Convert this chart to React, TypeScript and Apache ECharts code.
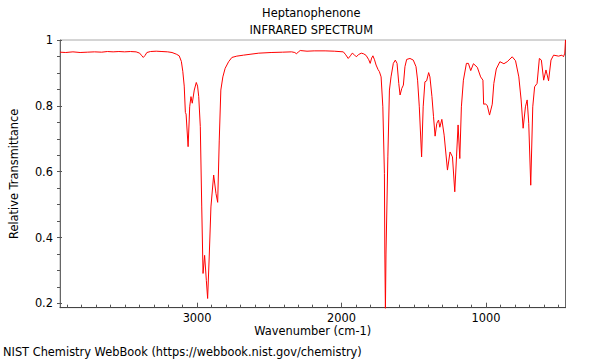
import React, { useEffect, useRef } from 'react';
import * as echarts from 'echarts';

// Spectrum (wavenumber in cm-1, relative transmittance)
const wavenumbers = [
  3970, 3930, 3880, 3830, 3780, 3730, 3680, 3640, 3600, 3560, 3520, 3480, 3440, 3415, 3400, 3390, 3378, 3365, 3340, 3300,
  3260, 3220, 3190, 3160, 3140, 3125, 3115, 3105, 3097, 3092, 3078, 3070, 3067, 3058, 3049, 3035, 3021, 3012, 3004, 2993,
  2983, 2974, 2963, 2951, 2942, 2931, 2919, 2900, 2884, 2872, 2861, 2850, 2836, 2820, 2796, 2773, 2739, 2692, 2640, 2586,
  2500, 2420, 2357, 2335, 2323, 2310, 2297, 2250, 2200, 2124, 2060, 1997, 1980, 1963, 1948, 1935, 1920, 1907, 1890, 1872,
  1855, 1838, 1820, 1810, 1800, 1791, 1780, 1769, 1755, 1746, 1734, 1722, 1711, 1708, 1704, 1700, 1687, 1676, 1665, 1649,
  1635, 1623, 1611, 1602, 1590, 1579, 1568, 1556, 1533, 1510, 1491, 1480, 1468, 1452, 1441, 1429, 1417, 1403, 1394, 1380,
  1369, 1358, 1346, 1334, 1325, 1311, 1295, 1272, 1254, 1237, 1221, 1209, 1198, 1186, 1175, 1161, 1140, 1126, 1110, 1091,
  1064, 1041, 1025, 1020, 1006, 994, 979, 960, 949, 932, 907, 879, 856, 821, 798, 775, 759, 745, 729, 717,
  706, 692, 678, 665, 648, 632, 618, 602, 586, 568, 551, 533, 498, 475, 464, 455, 451, 450,
];
const transmittance = [
  0.963, 0.962, 0.964, 0.962, 0.963, 0.964, 0.963, 0.965, 0.964, 0.965, 0.964, 0.965, 0.964, 0.96, 0.952, 0.947, 0.953, 0.962, 0.965, 0.966,
  0.965, 0.964, 0.962, 0.957, 0.952, 0.935, 0.905, 0.86, 0.78, 0.775, 0.676, 0.76, 0.797, 0.828, 0.808, 0.848, 0.871, 0.86, 0.828, 0.737,
  0.493, 0.291, 0.346, 0.27, 0.215, 0.341, 0.493, 0.59, 0.534, 0.507, 0.696, 0.848, 0.888, 0.914, 0.934, 0.947, 0.951, 0.954, 0.957, 0.96,
  0.962, 0.963, 0.964, 0.962, 0.958, 0.964, 0.968, 0.966, 0.967, 0.967, 0.966, 0.964, 0.955, 0.944, 0.952, 0.96, 0.955, 0.949, 0.956, 0.96,
  0.958, 0.953, 0.94, 0.929, 0.945, 0.952, 0.94, 0.924, 0.91, 0.904, 0.888, 0.797, 0.595, 0.35, 0.18, 0.35, 0.645, 0.848, 0.888, 0.929,
  0.939, 0.929, 0.868, 0.833, 0.853, 0.863, 0.919, 0.941, 0.944, 0.939, 0.919, 0.878, 0.797, 0.645, 0.797, 0.873, 0.876, 0.901, 0.888, 0.828,
  0.767, 0.708, 0.747, 0.757, 0.735, 0.759, 0.711, 0.605, 0.66, 0.645, 0.539, 0.645, 0.742, 0.64, 0.797, 0.878, 0.929, 0.929, 0.907, 0.928,
  0.917, 0.888, 0.878, 0.805, 0.806, 0.8, 0.772, 0.805, 0.868, 0.912, 0.934, 0.928, 0.934, 0.949, 0.937, 0.888, 0.818, 0.732, 0.797, 0.818,
  0.747, 0.559, 0.797, 0.858, 0.868, 0.944, 0.939, 0.878, 0.909, 0.876, 0.939, 0.954, 0.951, 0.954, 0.949, 0.96, 0.96, 1.0,
];

// Axis ranges and tick values
const xMin = 450;
const xMax = 3970;
const yMin = 0.187;
const yMax = 1;
const xMajorMin = 1000;
const xMajorMax = 3000;
const xMinorMin = 500;
const xMinorMax = 3900;

const titleLines = ['Heptanophenone', 'INFRARED SPECTRUM'];
const xName = 'Wavenumber (cm-1)';
const yName = 'Relative Transmittance';
const footer = 'NIST Chemistry WebBook (https://webbook.nist.gov/chemistry)';

const FONT = 'DejaVu Sans';
const FS = 11.4;

export default function App() {
  const ref = useRef<HTMLDivElement>(null);

  useEffect(() => {
    if (!ref.current) return;
    const chart = echarts.init(ref.current, undefined, { renderer: 'svg' });

    const gLeft = 57;
    const gWidth = 508.5;
    const gTop = 40;
    const gHeight = 267.7;
    const pxPerUnit = gWidth / (xMax - xMin);
    const yPx = gHeight / (yMax - yMin);

    const minorLeft = gLeft + (xMax - xMinorMax) * pxPerUnit;
    const minorWidth = (xMinorMax - xMinorMin) * pxPerUnit;
    const majorLeft = gLeft + (xMax - xMajorMax) * pxPerUnit;
    const majorWidth = (xMajorMax - xMajorMin) * pxPerUnit;
    const yTickHeight = (yMax - 0.2) * yPx;

    const tickColor = '#555';
    const label = { color: '#000', fontFamily: FONT, fontSize: FS };

    const data = wavenumbers.map((w, i) => [w, transmittance[i]]);

    chart.setOption({
      animation: false,
      backgroundColor: '#fff',
      textStyle: { fontFamily: FONT },
      grid: [
        { left: gLeft, top: gTop, width: gWidth, height: gHeight, show: true, borderColor: '#aaa', borderWidth: 1, containLabel: false },
        { left: minorLeft, top: gTop, width: minorWidth, height: gHeight, containLabel: false },
        { left: gLeft, top: gTop, width: gWidth, height: yTickHeight, containLabel: false },
        { left: majorLeft, top: gTop, width: majorWidth, height: gHeight, containLabel: false },
      ],
      xAxis: [
        {
          gridIndex: 0, type: 'value', inverse: true, min: xMin, max: xMax,
          axisLine: { show: true, lineStyle: { color: '#444', width: 1 } },
          axisTick: { show: false }, axisLabel: { show: false }, splitLine: { show: false },
          name: xName, nameLocation: 'middle', nameGap: 18,
          nameTextStyle: { ...label },
        },
        {
          gridIndex: 1, type: 'value', inverse: true, min: xMinorMin, max: xMinorMax, interval: 100,
          axisLine: { show: false },
          axisTick: { show: true, inside: true, length: 3, lineStyle: { color: tickColor } },
          axisLabel: { show: false }, splitLine: { show: false },
        },
        { gridIndex: 2, type: 'value', show: false, min: xMin, max: xMax },
        {
          gridIndex: 3, type: 'value', inverse: true, min: xMajorMin, max: xMajorMax, interval: 1000,
          axisLine: { show: false },
          axisTick: { show: true, inside: true, length: 5, lineStyle: { color: tickColor } },
          axisLabel: { show: true, margin: 5, formatter: (v: number) => String(v), ...label },
          splitLine: { show: false },
        },
      ],
      yAxis: [
        {
          gridIndex: 0, type: 'value', min: yMin, max: yMax,
          axisLine: { show: true, lineStyle: { color: '#666', width: 1 } },
          axisTick: { show: false }, axisLabel: { show: false }, splitLine: { show: false },
          name: yName, nameLocation: 'middle', nameGap: 41, nameRotate: 90,
          nameTextStyle: { ...label },
        },
        { gridIndex: 1, type: 'value', show: false, min: yMin, max: yMax },
        {
          gridIndex: 2, type: 'value', min: 0.2, max: 1, interval: 0.2,
          axisLine: { show: false },
          axisTick: { show: true, inside: true, length: 5, lineStyle: { color: tickColor } },
          minorTick: { show: true, splitNumber: 4, length: 3, lineStyle: { color: tickColor } },
          axisLabel: { show: true, margin: 4, formatter: (v: number) => String(Math.round(v * 10) / 10), ...label },
          splitLine: { show: false },
        },
        { gridIndex: 3, type: 'value', show: false, min: yMin, max: yMax },
        {
          gridIndex: 0, type: 'value', position: 'right', min: yMin, max: yMax,
          axisLine: { show: true, lineStyle: { color: '#666', width: 1 } },
          axisTick: { show: false }, axisLabel: { show: false }, splitLine: { show: false },
        },
      ],
      series: [
        {
          type: 'line', xAxisIndex: 0, yAxisIndex: 0, data,
          showSymbol: false, symbol: 'none', smooth: false, clip: true,
          lineStyle: { color: '#ff0000', width: 1 },
        },
      ],
      graphic: [
        { type: 'text', x: gLeft + gWidth / 2, y: 13, style: { text: titleLines[0], align: 'center', verticalAlign: 'middle', font: `${FS}px "${FONT}"`, fill: '#000' } },
        { type: 'text', x: gLeft + gWidth / 2, y: 29.5, style: { text: titleLines[1], align: 'center', verticalAlign: 'middle', font: `${FS}px "${FONT}"`, fill: '#000' } },
        { type: 'text', x: 3, y: 352, style: { text: footer, align: 'left', verticalAlign: 'middle', font: `${FS}px "${FONT}"`, fill: '#000' } },
      ],
    });

    return () => chart.dispose();
  }, []);

  return <div ref={ref} style={{ position: 'fixed', left: 0, top: 0, width: 600, height: 360 }} />;
}
